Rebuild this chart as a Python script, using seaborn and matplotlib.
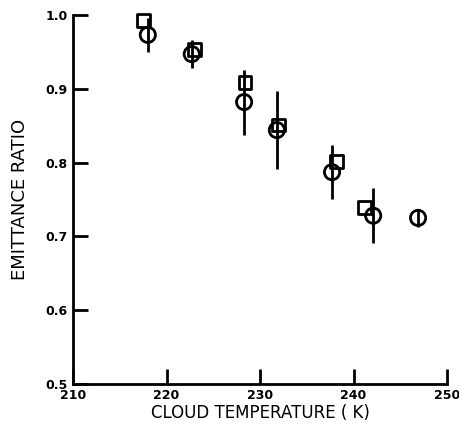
import numpy as np
import pandas as pd
import matplotlib
matplotlib.use("Agg")
import matplotlib.pyplot as plt
import seaborn as sns

# squares
sq_temp = [217.5, 223.0, 228.4, 232.0, 238.2, 241.2]
sq_ratio = [0.993, 0.953, 0.908, 0.851, 0.801, 0.739]

# circles with error bars
ci_temp = [218.0, 222.7, 228.3, 231.8, 237.7, 242.1, 246.9]
ci_ratio = [0.973, 0.947, 0.882, 0.844, 0.787, 0.728, 0.725]
ci_err = [0.023, 0.019, 0.044, 0.053, 0.037, 0.037, 0.012]

x_ticks = [210, 220, 230, 240, 250]
y_ticks = [0.5, 0.6, 0.7, 0.8, 0.9, 1.0]
y_ticklabels = ["0.5", "0.6", "0.7", "0.8", "0.9", "1.0"]

sns.set_style("ticks")
plt.rcParams["font.family"] = ["DejaVu Sans"]

fig = plt.figure(figsize=(4.59, 4.28), dpi=100)
ax = fig.add_axes([0.159, 0.103, 0.815, 0.862])

sq = pd.DataFrame({"temp": sq_temp, "ratio": sq_ratio})
ci = pd.DataFrame({"temp": ci_temp, "ratio": ci_ratio, "err": ci_err})

ax.errorbar(ci["temp"], ci["ratio"], yerr=ci["err"], fmt="none",
            ecolor="black", elinewidth=2, capsize=0, zorder=2)
sns.scatterplot(data=sq, x="temp", y="ratio", marker="s", s=85,
                facecolor="none", edgecolor="black", linewidth=2, ax=ax,
                zorder=3, clip_on=False)
sns.scatterplot(data=ci, x="temp", y="ratio", marker="o", s=120,
                facecolor="none", edgecolor="black", linewidth=2, ax=ax,
                zorder=3, clip_on=False)

ax.set_xlim(210, 250)
ax.set_ylim(0.5, 1.0)
ax.set_xticks(x_ticks)
ax.set_yticks(y_ticks)
ax.set_yticklabels(y_ticklabels)
ax.tick_params(direction="in", length=11, width=2, labelsize=9, pad=4,
               color="black", labelcolor="black")
for lab in ax.get_xticklabels() + ax.get_yticklabels():
    lab.set_fontweight("bold")

sns.despine(ax=ax)
for side in ["left", "bottom"]:
    ax.spines[side].set_linewidth(2)
    ax.spines[side].set_color("black")

ax.set_xlabel("CLOUD TEMPERATURE ( K)", fontsize=12, labelpad=1, color="black")
ax.set_ylabel("EMITTANCE RATIO", fontsize=13, labelpad=12, color="black")

fig.savefig("out.png", dpi=100)
